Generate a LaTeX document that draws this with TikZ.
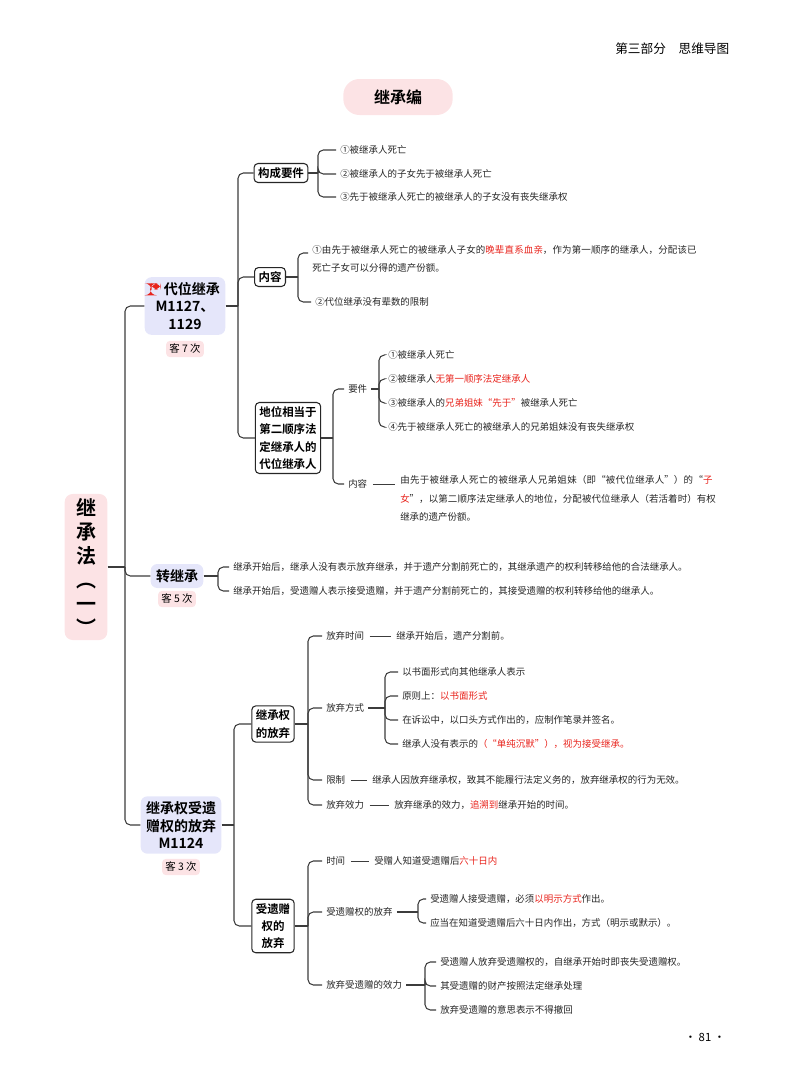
\documentclass[tikz,border=0pt]{standalone}
\usepackage{fontspec}
\setmainfont{Noto Sans CJK SC}[BoldFont={Noto Sans CJK SC Bold}]
\XeTeXlinebreaklocale "zh"
\XeTeXlinebreakskip=0pt plus 1pt
\usetikzlibrary{positioning}
\definecolor{hired}{HTML}{E8231C}
\definecolor{pinkbg}{HTML}{FCE3E5}
\definecolor{lavbg}{HTML}{E5E6FA}
\definecolor{linegray}{HTML}{3C3C3C}
\tikzset{conn/.style={draw=linegray,line width=0.8pt,rounded corners=4pt},
  dashconn/.style={draw=linegray,line width=0.6pt,shorten <=1pt,shorten >=1pt},
  leaf/.style={anchor=west,inner sep=3pt,font=\fontsize{7.1}{14}\selectfont,text=black!85},
  box/.style={draw=black!85,line width=0.8pt,rounded corners=3pt,align=center,inner sep=3pt,font=\bfseries\fontsize{8.6}{13}\selectfont},
  topic/.style={fill=lavbg,rounded corners=5pt,align=center,inner sep=4pt,font=\bfseries\fontsize{10.5}{13}\selectfont},
  badge/.style={fill=pinkbg,rounded corners=3pt,inner sep=2.5pt,font=\fontsize{7.8}{9}\selectfont}}
\newcommand{\hr}[1]{\textcolor{hired}{#1}}
\newcommand{\redflag}{\tikz[baseline=0pt,x=1pt,y=1pt]{\fill[hired] (0,-0.5) rectangle (1,8.5);\fill[hired] (1,3.8) rectangle (8,8.5);}}
\begin{document}
\begin{tikzpicture}[x=0.75pt,y=-0.75pt]
\useasboundingbox (0,0) rectangle (800,1086);
\node[anchor=east,font=\fontsize{9.5}{11}\selectfont] (head) at (734,49) {第三部分\quad 思维导图};
\node[font=\fontsize{8.5}{10}\selectfont] (page) at (705,1037) {· 81 ·};
\node[fill=pinkbg,rounded corners=12pt,minimum width=82pt,minimum height=27pt,font=\bfseries\fontsize{12}{14}\selectfont] (title) at (398,97) {继承编};

%root
\node[fill=pinkbg,rounded corners=6pt,minimum width=32pt,minimum height=82pt,align=center,font=\bfseries\fontsize{15}{18}\selectfont] (root) at (86,567) {继\\承\\法\\︵\\一\\︶};
\node[topic] (dw) at (185,306) {\redflag\ 代位继承\\M1127、\\1129};
\node[badge] (dwb) at (185,349) {客 7 次};
\node[topic] (zj) at (177,576) {转继承};
\node[badge] (zjb) at (177,599) {客 5 次};
\node[topic] (fq) at (181,825) {继承权受遗\\赠权的放弃\\M1124};
\node[badge] (fqb) at (181,867) {客 3 次};
\coordinate (t0) at (125,0);
\draw[conn] (root.east) -- (root.east -| t0);
\foreach \c in {dw,zj,fq} \draw[conn] (root.east -| t0) |- (\c.west);

%代位继承
\node[box] (gc) at (281,173) {构成要件};
\node[box] (nr) at (270,277) {内容};
\node[box] (dx) at (288,438) {地位相当于\\第二顺序法\\定继承人的\\代位继承人};
\coordinate (t1) at (238,0);
\draw[conn] (dw.east) -- (dw.east -| t1);
\foreach \c in {gc,nr,dx} \draw[conn] (dw.east -| t1) |- (\c.west);

\node[leaf] (gc1) at (336,150) {①被继承人死亡};
\node[leaf] (gc2) at (336,174) {②被继承人的子女先于被继承人死亡};
\node[leaf] (gc3) at (336,197) {③先于被继承人死亡的被继承人的子女没有丧失继承权};
\coordinate (t2) at (318,0);
\draw[conn] (gc.east) -- (gc.east -| t2);
\foreach \c in {gc1,gc2,gc3} \draw[conn] (gc.east -| t2) |- (\c.west);

\node[leaf,anchor=north west,text width=290pt,align=left] (nr1) at (308,241) {①由先于被继承人死亡的被继承人子女的\hr{晚辈直系血亲}，作为第一顺序的继承人，分配该已死亡子女可以分得的遗产份额。};
\node[leaf] (nr2) at (311,302) {②代位继承没有辈数的限制};
\coordinate (t3) at (298,0);
\coordinate (nr1a) at (308,253);
\draw[conn] (nr.east) -- (nr.east -| t3);
\foreach \c in {nr1a,nr2.west} \draw[conn] (nr.east -| t3) |- (\c);

\node[leaf] (yj) at (344,389) {要件};
\node[leaf] (nr3) at (344,484) {内容};
\coordinate (t4) at (333,0);
\draw[conn] (dx.east) -- (dx.east -| t4);
\foreach \c in {yj,nr3} \draw[conn] (dx.east -| t4) |- (\c.west);

\node[leaf] (yj1) at (384,355) {①被继承人死亡};
\node[leaf] (yj2) at (384,379) {②被继承人\hr{无第一顺序法定继承人}};
\node[leaf] (yj3) at (384,403) {③被继承人的\hr{兄弟姐妹“先于”}被继承人死亡};
\node[leaf] (yj4) at (384,427) {④先于被继承人死亡的被继承人的兄弟姐妹没有丧失继承权};
\coordinate (t5) at (379,0);
\draw[conn] (yj.east) -- (yj.east -| t5);
\foreach \c in {yj1,yj2,yj3,yj4} \draw[conn] (yj.east -| t5) |- (\c.west);

\node[leaf,anchor=north west,text width=238pt,align=left] (nr3t) at (396,471) {由先于被继承人死亡的被继承人兄弟姐妹（即“被代位继承人”）的“\hr{子女}”，以第二顺序法定继承人的地位，分配被代位继承人（若活着时）有权继承的遗产份额。};
\draw[dashconn] (nr3.east) -- (nr3.east -| nr3t.west);

%转继承
\node[leaf] (zj1) at (229,567) {继承开始后，继承人没有表示放弃继承，并于遗产分割前死亡的，其继承遗产的权利转移给他的合法继承人。};
\node[leaf] (zj2) at (229,591) {继承开始后，受遗赠人表示接受遗赠，并于遗产分割前死亡的，其接受遗赠的权利转移给他的继承人。};
\coordinate (t6) at (218,0);
\draw[conn] (zj.east) -- (zj.east -| t6);
\foreach \c in {zj1,zj2} \draw[conn] (zj.east -| t6) |- (\c.west);

%放弃
\node[box] (jc) at (273,724) {继承权\\的放弃};
\node[box] (yz) at (273,926) {受遗赠\\权的\\放弃};
\coordinate (t7) at (234,0);
\draw[conn] (fq.east) -- (fq.east -| t7);
\foreach \c in {jc,yz} \draw[conn] (fq.east -| t7) |- (\c.west);

\node[leaf] (sj) at (322,636) {放弃时间};
\node[leaf] (fs) at (322,708) {放弃方式};
\node[leaf] (xz) at (322,780) {限制};
\node[leaf] (xl) at (322,805) {放弃效力};
\coordinate (t8) at (308,0);
\draw[conn] (jc.east) -- (jc.east -| t8);
\foreach \c in {sj,fs,xz,xl} \draw[conn] (jc.east -| t8) |- (\c.west);

\node[leaf] (sjt) at (392,636) {继承开始后，遗产分割前。};
\node[leaf] (xzt) at (368,780) {继承人因放弃继承权，致其不能履行法定义务的，放弃继承权的行为无效。};
\node[leaf] (xlt) at (390,805) {放弃继承的效力，\hr{追溯到}继承开始的时间。};
\foreach \a/\b in {sj/sjt,xz/xzt,xl/xlt} \draw[dashconn] (\a.east) -- (\b.west);

\node[leaf] (fs1) at (398,672) {以书面形式向其他继承人表示};
\node[leaf] (fs2) at (398,696) {原则上：\hr{以书面形式}};
\node[leaf] (fs3) at (398,720) {在诉讼中，以口头方式作出的，应制作笔录并签名。};
\node[leaf] (fs4) at (398,744) {继承人没有表示的\hr{（“单纯沉默”），视为接受继承。}};
\coordinate (t9) at (385,0);
\draw[conn] (fs.east) -- (fs.east -| t9);
\foreach \c in {fs1,fs2,fs3,fs4} \draw[conn] (fs.east -| t9) |- (\c.west);

%受遗赠
\node[leaf] (ysj) at (322,861) {时间};
\node[leaf] (yfq) at (322,912) {受遗赠权的放弃};
\node[leaf] (yxl) at (322,985) {放弃受遗赠的效力};
\coordinate (t10) at (308,0);
\draw[conn] (yz.east) -- (yz.east -| t10);
\foreach \c in {ysj,yfq,yxl} \draw[conn] (yz.east -| t10) |- (\c.west);

\node[leaf] (ysjt) at (370,861) {受赠人知道受遗赠后\hr{六十日内}};
\draw[dashconn] (ysj.east) -- (ysjt.west);

\node[leaf] (yfq1) at (426,899) {受遗赠人接受遗赠，必须\hr{以明示方式}作出。};
\node[leaf] (yfq2) at (426,923) {应当在知道受遗赠后六十日内作出，方式（明示或默示）。};
\coordinate (t11) at (418,0);
\draw[conn] (yfq.east) -- (yfq.east -| t11);
\foreach \c in {yfq1,yfq2} \draw[conn] (yfq.east -| t11) |- (\c.west);

\node[leaf] (yxl1) at (436,962) {受遗赠人放弃受遗赠权的，自继承开始时即丧失受遗赠权。};
\node[leaf] (yxl2) at (436,986) {其受遗赠的财产按照法定继承处理};
\node[leaf] (yxl3) at (436,1010) {放弃受遗赠的意思表示不得撤回};
\coordinate (t12) at (425,0);
\draw[conn] (yxl.east) -- (yxl.east -| t12);
\foreach \c in {yxl1,yxl2,yxl3} \draw[conn] (yxl.east -| t12) |- (\c.west);
\end{tikzpicture}
\end{document}
